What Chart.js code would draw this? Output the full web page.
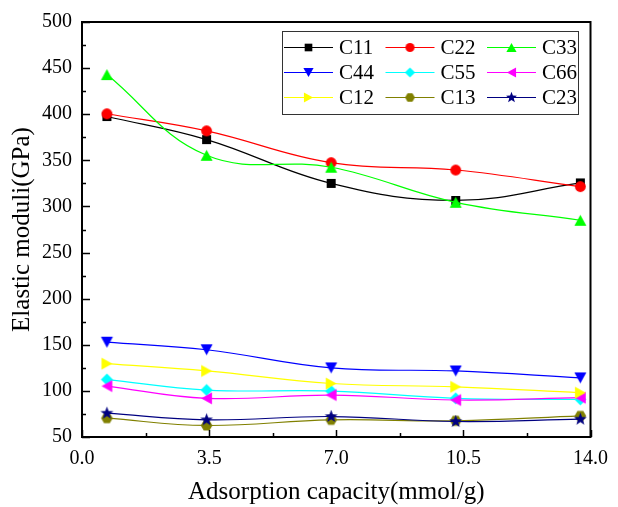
<!DOCTYPE html>
<html>
<head>
<meta charset="utf-8">
<script src="https://cdn.jsdelivr.net/npm/chart.js@4.4.1/dist/chart.umd.min.js"></script>
<style>
  html, body { margin: 0; padding: 0; background: #fff; }
  #wrap { width: 618px; height: 507px; }
</style>
</head>
<body>
<div id="wrap"><canvas id="c" width="618" height="507"></canvas></div>
<script>
// adsorption capacity (mmol/g)
const capacity = [0.686, 3.43, 6.86, 10.29, 13.72];

const c11 = [397.5, 372.5, 325.0, 306.5, 325.5];
const c22 = [400.5, 382.0, 347.5, 339.5, 321.5];
const c33 = [443.0, 355.5, 342.5, 304.5, 285.0];
const c44 = [152.8, 144.6, 124.9, 121.6, 114.1];
const c55 = [112.3, 100.9, 99.8, 91.9, 90.8];
const c66 = [105.2, 91.9, 95.5, 90.1, 92.6];
const c12 = [129.5, 121.6, 108.0, 104.4, 98.0];
const c13 = [70.4, 62.5, 68.6, 67.6, 72.9];
const c23 = [75.8, 68.6, 72.2, 66.8, 69.3];

const seriesNames = ['C11', 'C22', 'C33', 'C44', 'C55', 'C66', 'C12', 'C13', 'C23'];
const seriesValues = [c11, c22, c33, c44, c55, c66, c12, c13, c23];
const seriesColors = ['#000000', '#FF0000', '#00FF00', '#0000FF', '#00FFFF', '#FF00FF', '#FFFF00', '#808000', '#000080'];
const seriesShapes = ['square', 'circle', 'up', 'down', 'diamond', 'left', 'right', 'hexagon', 'star'];

const xTicks = [0, 3.5, 7, 10.5, 14];
const FONT = '"Liberation Serif", serif';

// draw a filled marker into a small canvas so the plot and legend share it
function makeMarker(shape, color, k) {
  const size = Math.ceil(15 * k);
  const cv = document.createElement('canvas');
  cv.width = size; cv.height = size;
  const g = cv.getContext('2d');
  const cx = size / 2, cy = size / 2;
  g.fillStyle = color;
  g.beginPath();
  if (shape === 'square') {
    const h = 4.5 * k;
    g.rect(cx - h, cy - h, 2 * h, 2 * h);
  } else if (shape === 'circle') {
    g.arc(cx, cy, 5.4 * k, 0, Math.PI * 2);
  } else if (shape === 'diamond') {
    const r = 6 * k;
    g.moveTo(cx, cy - r); g.lineTo(cx + r, cy); g.lineTo(cx, cy + r); g.lineTo(cx - r, cy);
  } else if (shape === 'hexagon') {
    const r = 5.8 * k;
    for (let i = 0; i < 6; i++) {
      const a = i * Math.PI / 3;
      const px = cx + r * Math.cos(a), py = cy + r * Math.sin(a);
      i ? g.lineTo(px, py) : g.moveTo(px, py);
    }
  } else if (shape === 'star') {
    const ro = 6.8 * k, ri = 2.8 * k;
    for (let i = 0; i < 10; i++) {
      const a = -Math.PI / 2 + i * Math.PI / 5;
      const r = i % 2 ? ri : ro;
      const px = cx + r * Math.cos(a), py = cy + r * Math.sin(a);
      i ? g.lineTo(px, py) : g.moveTo(px, py);
    }
  } else {
    // triangles: up, down, left, right
    const w = 6 * k, h = 5.4 * k;
    const rot = { up: 0, down: Math.PI, left: -Math.PI / 2, right: Math.PI / 2 }[shape];
    const pts = [[0, -h], [w, h], [-w, h]];
    pts.forEach((p, i) => {
      const px = cx + p[0] * Math.cos(rot) - p[1] * Math.sin(rot);
      const py = cy + p[0] * Math.sin(rot) + p[1] * Math.cos(rot);
      i ? g.lineTo(px, py) : g.moveTo(px, py);
    });
  }
  g.closePath();
  g.fill();
  return cv;
}

const plotMarkers = seriesShapes.map((s, i) => makeMarker(s, seriesColors[i], 1));
const legendMarkers = seriesShapes.map((s, i) => makeMarker(s, seriesColors[i], 0.85));

const datasets = seriesNames.map((name, i) => ({
  label: name,
  data: capacity.map((x, j) => ({ x, y: seriesValues[i][j] })),
  borderColor: seriesColors[i],
  backgroundColor: seriesColors[i],
  borderWidth: 1.2,
  tension: 0.4,
  pointStyle: plotMarkers[i],
  pointRadius: 6,
  order: seriesNames.length - i
}));

// inward ticks, frame and the 3-column legend inside the plot
const framePlugin = {
  id: 'frame',
  afterDraw(chart) {
    const { ctx, chartArea: a, scales } = chart;
    ctx.save();
    ctx.strokeStyle = '#000';
    ctx.lineWidth = 1.5;
    ctx.beginPath();
    scales.x.ticks.forEach(t => {
      const px = Math.round(scales.x.getPixelForValue(t.value)) + 0.5;
      const len = t.label ? 7 : 4;
      ctx.moveTo(px, a.bottom); ctx.lineTo(px, a.bottom - len);
    });
    scales.y.ticks.forEach(t => {
      const py = Math.round(scales.y.getPixelForValue(t.value)) + 0.5;
      const len = t.label ? 8 : 4;
      ctx.moveTo(a.left, py); ctx.lineTo(a.left + len, py);
    });
    ctx.stroke();
    ctx.lineWidth = 2;
    ctx.strokeRect(a.left, a.top, a.right - a.left, a.bottom - a.top);

    // legend box
    const bx = 282, by = 31, bw = 296, bh = 83;
    ctx.fillStyle = '#fff';
    ctx.fillRect(bx, by, bw, bh);
    ctx.lineWidth = 1;
    ctx.strokeStyle = '#333';
    ctx.strokeRect(bx + 0.5, by + 0.5, bw, bh);
    ctx.font = '21px ' + FONT;
    ctx.textBaseline = 'middle';
    ctx.textAlign = 'left';
    seriesNames.forEach((name, i) => {
      const col = i % 3, row = Math.floor(i / 3);
      const x0 = 284 + col * 101.5;
      const y0 = 47 + row * 25;
      ctx.strokeStyle = seriesColors[i];
      ctx.lineWidth = 1.2;
      ctx.beginPath();
      ctx.moveTo(x0, y0 + 0.5); ctx.lineTo(x0 + 49, y0 + 0.5);
      ctx.stroke();
      const m = legendMarkers[i];
      ctx.drawImage(m, x0 + 24.5 - m.width / 2, y0 - m.height / 2 + 0.5);
      ctx.fillStyle = '#000';
      ctx.fillText(name, x0 + 55, y0 + 1);
    });
    ctx.restore();
  }
};

new Chart(document.getElementById('c'), {
  type: 'line',
  data: { datasets },
  options: {
    responsive: false,
    animation: false,
    layout: { padding: { left: 0, right: 20, top: 21, bottom: 0 } },
    plugins: {
      legend: { display: false },
      tooltip: { enabled: false }
    },
    scales: {
      x: {
        type: 'linear',
        min: 0,
        max: 14,
        grid: { display: false, drawTicks: false },
        border: { display: false },
        afterBuildTicks(scale) {
          const t = [];
          for (let k = 0; k <= 8; k++) t.push({ value: k * 1.75 });
          scale.ticks = t;
        },
        ticks: {
          autoSkip: false,
          maxRotation: 0,
          padding: 10,
          color: '#000',
          font: { family: FONT, size: 20 },
          callback: v => (xTicks.some(t => Math.abs(t - v) < 1e-6) ? v.toFixed(1) : '')
        },
        title: {
          display: true,
          text: 'Adsorption capacity(mmol/g)',
          color: '#000',
          font: { family: FONT, size: 25 },
          padding: { top: 0, bottom: 0 }
        },
        afterFit(scale) { scale.height = 70; }
      },
      y: {
        min: 50,
        max: 500,
        grid: { display: false, drawTicks: false },
        border: { display: false },
        ticks: {
          stepSize: 25,
          autoSkip: false,
          padding: 10,
          color: '#000',
          font: { family: FONT, size: 20 },
          callback: v => (v % 50 === 0 ? String(v) : '')
        },
        title: {
          display: true,
          text: 'Elastic moduli(GPa)',
          color: '#000',
          font: { family: FONT, size: 25 },
          padding: { top: 7, bottom: 0 }
        },
        afterFit(scale) { scale.width = 82; }
      }
    }
  },
  plugins: [framePlugin]
});
</script>
</body>
</html>
